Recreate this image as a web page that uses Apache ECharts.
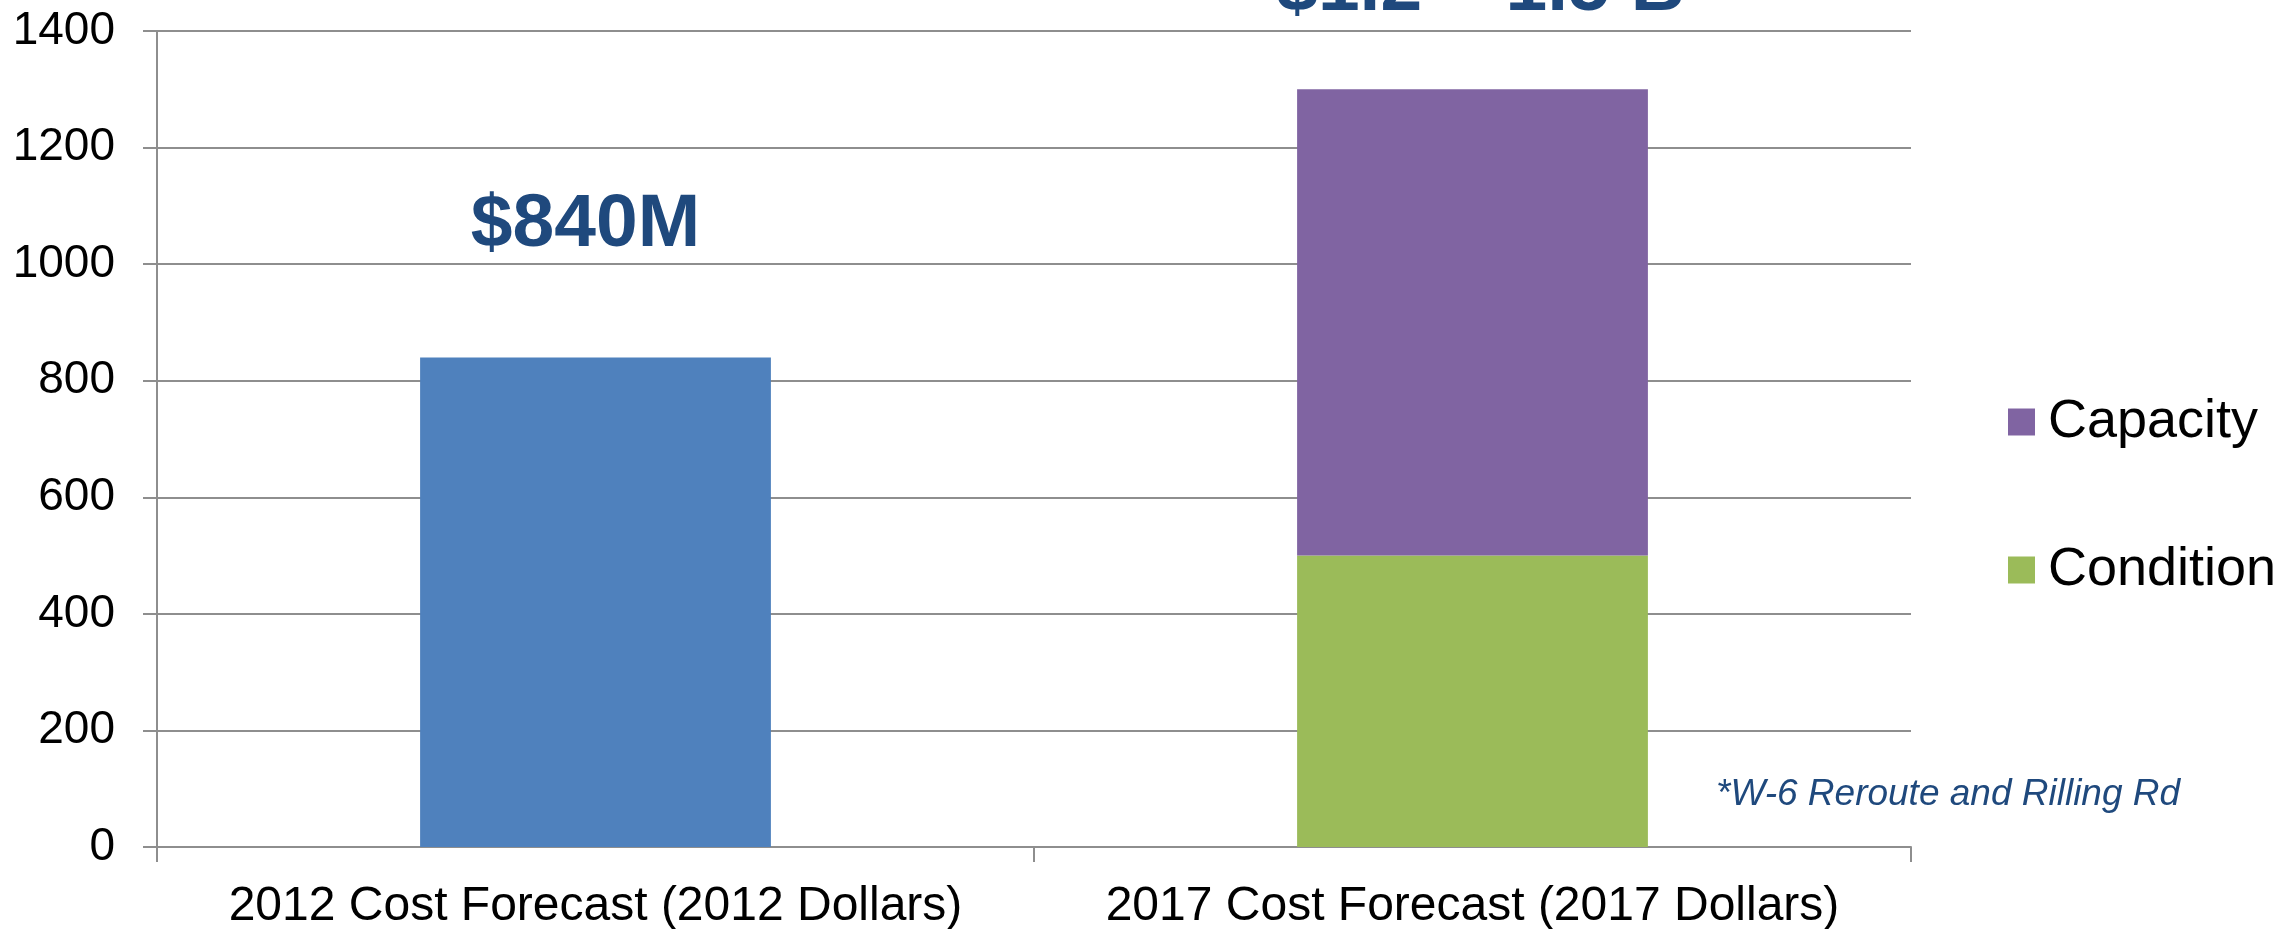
<!DOCTYPE html>
<html lang="en">
<head>
    <meta charset="utf-8" />
    <title>Cost Forecast</title>
    <script src="https://cdn.jsdelivr.net/npm/echarts@6/dist/echarts.min.js"></script>
    <style>
        html, body { margin: 0; padding: 0; background: #fff; }
        #main { width: 2274px; height: 929px; }
    </style>
</head>
<body>
    <div id="main"></div>
    <script>
        // values
        var categories = ['2012 Cost Forecast (2012 Dollars)', '2017 Cost Forecast (2017 Dollars)'];
        var forecast2012 = [840, '-'];
        var condition = ['-', 500];
        var capacity = ['-', 800];
        var yTicks = [0, 200, 400, 600, 800, 1000, 1200, 1400];
        var barLabels = ['$840M', '$1.2 \u2013 1.5 B'];
        var footnote = '*W-6 Reroute and Rilling Rd';

        var font = '"Liberation Sans", Arial, sans-serif';
        var navy = '#1F497D';
        var gray = '#8e8e8e';

        var chart = echarts.init(document.getElementById('main'));

        var option = {
            animation: false,
            backgroundColor: '#fff',
            textStyle: { fontFamily: font },
            grid: { left: 157, right: 363, top: 31, bottom: 82, containLabel: false, outerBoundsMode: 'none' },
            legend: {
                data: ['Capacity', 'Condition'],
                orient: 'vertical',
                left: 2003,
                top: 390,
                itemWidth: 27,
                itemHeight: 27,
                itemGap: 94,
                icon: 'rect',
                textStyle: { fontSize: 54, color: '#000', fontFamily: font, padding: [0, 0, 0, 8] }
            },
            xAxis: {
                type: 'category',
                data: categories,
                axisLine: { lineStyle: { color: gray, width: 2 } },
                axisTick: { show: true, interval: 0, length: 15, lineStyle: { color: gray, width: 2 } },
                axisLabel: { interval: 0, hideOverlap: false, fontSize: 48, color: '#000', margin: 36, fontFamily: font }
            },
            yAxis: {
                type: 'value',
                min: yTicks[0],
                max: yTicks[yTicks.length - 1],
                interval: 200,
                axisLine: { show: true, lineStyle: { color: gray, width: 2 } },
                axisTick: { show: true, length: 14, lineStyle: { color: gray, width: 2 } },
                axisLabel: {
                    fontSize: 46, color: '#000', margin: 42, fontFamily: font,
                    formatter: function (v) { return String(v); }
                },
                splitLine: { lineStyle: { color: gray, width: 2 } }
            },
            series: [
                {
                    name: '2012 Forecast',
                    type: 'bar',
                    stack: 'cost',
                    barWidth: '40%',
                    data: forecast2012,
                    itemStyle: { color: '#4F81BD' },
                    label: {
                        show: true,
                        position: 'top',
                        distance: 95,
                        offset: [-10, 0],
                        formatter: barLabels[0],
                        fontSize: 75,
                        fontWeight: 'bold',
                        color: navy,
                        fontFamily: font
                    }
                },
                {
                    name: 'Condition',
                    type: 'bar',
                    stack: 'cost',
                    barWidth: '40%',
                    data: condition,
                    itemStyle: { color: '#9BBB59' }
                },
                {
                    name: 'Capacity',
                    type: 'bar',
                    stack: 'cost',
                    barWidth: '40%',
                    data: capacity,
                    itemStyle: { color: '#8064A2' },
                    label: {
                        show: true,
                        position: 'top',
                        distance: 62,
                        offset: [8, 0],
                        formatter: barLabels[1],
                        fontSize: 75,
                        fontWeight: 'bold',
                        color: navy,
                        fontFamily: font
                    }
                }
            ],
            graphic: [
                {
                    type: 'text',
                    left: 1716,
                    top: 776,
                    style: {
                        text: footnote,
                        fontSize: 37,
                        fontStyle: 'italic',
                        fill: navy,
                        fontFamily: font
                    }
                }
            ]
        };

        chart.setOption(option);
    </script>
</body>
</html>
